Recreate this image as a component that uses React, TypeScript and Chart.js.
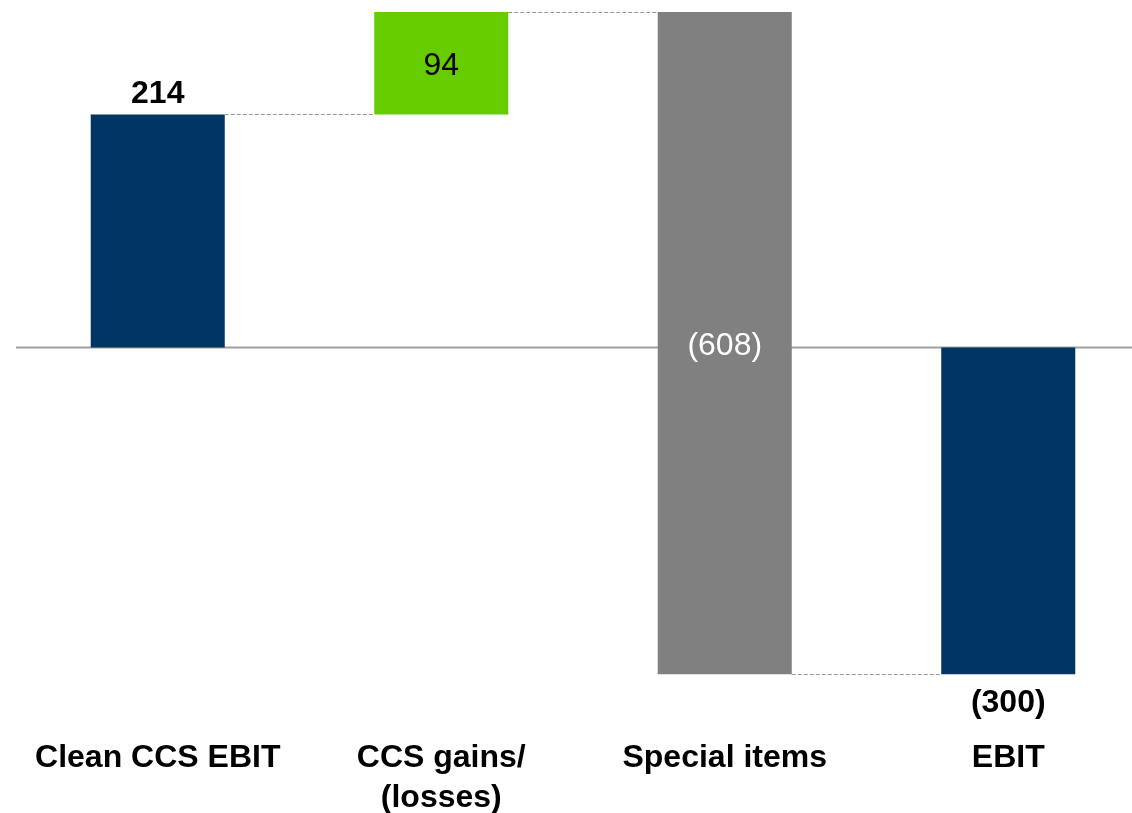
import React, { useEffect, useRef } from "react";
import { Chart, registerables } from "chart.js";

Chart.register(...registerables);

const categories: (string | string[])[] = ["Clean CCS EBIT", ["CCS gains/", "(losses)"], "Special items", "EBIT"];
const deltas = [214, 94, -608, -300];
const isTotal = [true, false, false, true];
const valueLabels = ["214", "94", "(608)", "(300)"];
const barColors = ["#003463", "#66CC00", "#808080", "#003463"];
const labelColors = ["#000000", "#000000", "#ffffff", "#000000"];
const labelBold = [true, false, false, true];
const labelPlace = ["above", "inside", "inside", "below"];

const FONT = "'Liberation Sans', Arial, sans-serif";

function buildRanges(): [number, number][] {
  const out: [number, number][] = [];
  let running = 0;
  deltas.forEach((d, i) => {
    if (isTotal[i]) {
      running = i === 0 ? d : running;
      out.push([0, i === 0 ? d : running]);
    } else {
      out.push([running, running + d]);
      running += d;
    }
  });
  return out;
}

export default function App() {
  const ref = useRef<HTMLCanvasElement | null>(null);
  useEffect(() => {
    document.body.style.margin = "0";
    document.body.style.overflow = "hidden";
    const ranges = buildRanges();
    const plugin = {
      id: "waterfallDeco",
      beforeDatasetsDraw(chart: any) {
        const { ctx, chartArea, scales } = chart;
        const y0 = scales.y.getPixelForValue(0);
        ctx.save();
        ctx.strokeStyle = "#a0a0a0";
        ctx.lineWidth = 2;
        ctx.beginPath();
        ctx.moveTo(chartArea.left, y0);
        ctx.lineTo(chart.width, y0);
        ctx.stroke();
        ctx.restore();
      },
      afterDatasetsDraw(chart: any) {
        const { ctx, scales } = chart;
        const meta = chart.getDatasetMeta(0);
        ctx.save();
        // connectors
        ctx.strokeStyle = "#9a9a9a";
        ctx.lineWidth = 1;
        ctx.setLineDash([4, 2]);
        for (let i = 0; i < ranges.length - 1; i++) {
          const level = ranges[i][1];
          const a = meta.data[i];
          const b = meta.data[i + 1];
          const y = Math.round(scales.y.getPixelForValue(level)) + 0.5;
          ctx.beginPath();
          ctx.moveTo(a.x + a.width / 2, y);
          ctx.lineTo(b.x - b.width / 2, y);
          ctx.stroke();
        }
        ctx.setLineDash([]);
        // value labels
        ctx.textAlign = "center";
        meta.data.forEach((el: any, i: number) => {
          ctx.font = `${labelBold[i] ? "bold " : ""}32px ${FONT}`;
          ctx.fillStyle = labelColors[i];
          const top = Math.min(el.y, el.base);
          const bottom = Math.max(el.y, el.base);
          if (labelPlace[i] === "above") {
            ctx.textBaseline = "alphabetic";
            ctx.fillText(valueLabels[i], el.x, top - 11);
          } else if (labelPlace[i] === "below") {
            ctx.textBaseline = "middle";
            ctx.fillText(valueLabels[i], el.x, bottom + 29);
          } else {
            ctx.textBaseline = "middle";
            ctx.fillText(valueLabels[i], el.x, (top + bottom) / 2 + 3);
          }
        });
        // category labels
        ctx.font = `bold 32px ${FONT}`;
        ctx.fillStyle = "#000000";
        ctx.textBaseline = "middle";
        categories.forEach((c, i) => {
          const x = scales.x.getPixelForValue(i);
          const lines = Array.isArray(c) ? c : [c];
          lines.forEach((ln, j) => ctx.fillText(ln, x, 758 + j * 40));
        });
        ctx.restore();
      },
    };
    const chart = new Chart(ref.current!, {
      type: "bar",
      data: {
        labels: categories.map((c) => (Array.isArray(c) ? c.join(" ") : c)),
        datasets: [
          {
            data: ranges as any,
            backgroundColor: barColors,
            borderWidth: 0,
            barPercentage: 0.4727,
            categoryPercentage: 1,
          },
        ],
      },
      options: {
        animation: false,
        responsive: false,
        maintainAspectRatio: false,
        layout: { padding: { left: 16, right: 0, top: 0, bottom: 0 } },
        plugins: { legend: { display: false }, tooltip: { enabled: false } },
        scales: {
          x: { display: false, offset: true },
          y: { display: false, min: -427.5, max: 319.1 },
        },
      },
      plugins: [plugin],
    });
    return () => chart.destroy();
  }, []);
  return (
    <div style={{ position: "fixed", left: 0, top: 0, width: 1132, height: 813, overflow: "hidden", background: "#fff" }}>
      <canvas ref={ref} width={1150} height={813} style={{ width: 1150, height: 813, display: "block" }} />
    </div>
  );
}
